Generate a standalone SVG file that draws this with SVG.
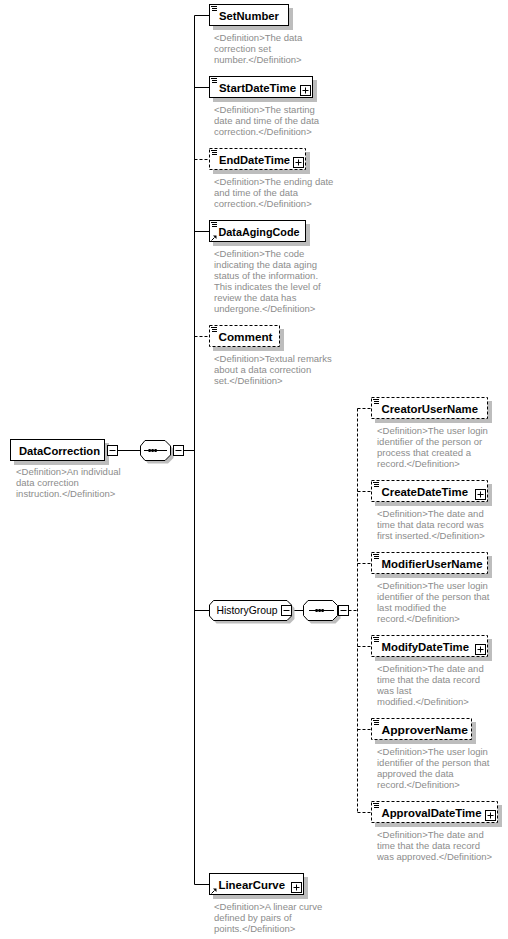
<svg xmlns="http://www.w3.org/2000/svg" width="508" height="939" viewBox="0 0 508 939">
<style>
.bg{fill:#fff}
.box{fill:#fff;stroke:#000;stroke-width:1}
.opt{stroke-dasharray:3,2}
.sh{fill:#bdbdbd;stroke:none}
.nm{font-family:"Liberation Sans",Arial,sans-serif;font-weight:bold;font-size:11.4px;fill:#000}
.gn{font-family:"Liberation Sans",Arial,sans-serif;font-size:10.5px;fill:#000}
.df{font-family:"Liberation Sans",Arial,sans-serif;font-size:9.5px;fill:#8c8c8c}
.ln{stroke:#000;stroke-width:1;fill:none}
.dl{stroke-dasharray:3,2}
</style>
<defs>
<g id="plus"><rect x="0" y="0" width="10" height="10" fill="#fff" stroke="#000"/><path d="M2,5H8M5,2V8" stroke="#000" fill="none"/></g>
<g id="minus"><rect x="0" y="0" width="10" height="10" fill="#fff" stroke="#000"/><path d="M2,5H8" stroke="#000" fill="none"/></g>
<g id="ic"><path d="M0,0.5H6M1,2.5H6M1,4.5H6" stroke="#000" stroke-width="1" fill="none" shape-rendering="crispEdges"/></g>
<g id="ref"><path d="M0.5,5.5L3.5,2.5" stroke="#000" fill="none"/><polygon points="2,0.5 5.5,0.5 5.5,4" fill="#000"/></g>
</defs>
<rect class="bg" x="0" y="0" width="508" height="939"/>

<g id="connectors">
<path class="ln" d="M194.5,15.5V884.5"/>
<path class="ln" d="M194.5,15.5H209.5M194.5,87.5H209.5M194.5,231.5H209.5M194.5,610.5H209.5M194.5,884.5H209.5"/>
<path class="ln dl" d="M194.5,159.5H209.5M194.5,336.5H209.5"/>
<path class="ln" d="M117.5,450.5H140.5M170.5,450.5H173.5M183.5,450.5H194.5"/>
<path class="ln" d="M291.5,610.5H303.5M337.5,610.5H338.5"/>
<path class="ln dl" d="M348.5,610.5H357.5M357.5,408.5V812.5M357.5,408.5H371.5M357.5,491.5H371.5M357.5,563.5H371.5M357.5,646.5H371.5M357.5,729.5H371.5M357.5,812.5H371.5"/>
</g>

<g id="DataCorrection">
<rect class="sh" x="14" y="443" width="95" height="22"/>
<rect class="box" x="10.5" y="439.5" width="94" height="21"/>
<text class="nm" x="19" y="454.5" textLength="81" lengthAdjust="spacingAndGlyphs">DataCorrection</text>
<use href="#minus" x="107.5" y="445.5"/>
<text class="df"><tspan x="16" y="475">&lt;Definition&gt;An individual</tspan><tspan x="16" y="486">data correction</tspan><tspan x="16" y="497">instruction.&lt;/Definition&gt;</tspan></text>
</g>

<g id="seq1">
<polygon class="sh" points="148,443.5 168,443.5 173.5,449 173.5,458 168,463.5 148,463.5 143.5,458 143.5,449"/>
<polygon class="box" points="145,440.5 165,440.5 170.5,446 170.5,455 165,460.5 145,460.5 140.5,455 140.5,446"/>
<path class="ln" d="M144,450.5H167"/>
<rect x="148.5" y="449" width="2.2" height="3" fill="#000"/><rect x="151.5" y="449" width="2.2" height="3" fill="#000"/><rect x="154.5" y="449" width="2.2" height="3" fill="#000"/>
<use href="#minus" x="173.5" y="445.5"/>
</g>

<g id="SetNumber">
<rect class="sh" x="213" y="8" width="80" height="22"/>
<rect class="box" x="209.5" y="4.5" width="79" height="21"/>
<use href="#ic" x="211" y="6"/>
<text class="nm" x="219" y="19.5" textLength="60" lengthAdjust="spacingAndGlyphs">SetNumber</text>
<text class="df"><tspan x="214" y="41">&lt;Definition&gt;The data</tspan><tspan x="214" y="52">correction set</tspan><tspan x="214" y="63">number.&lt;/Definition&gt;</tspan></text>
</g>

<g id="StartDateTime">
<rect class="sh" x="213" y="80" width="104" height="22"/>
<rect class="box" x="209.5" y="76.5" width="103" height="21"/>
<use href="#ic" x="211" y="78"/>
<text class="nm" x="219" y="91.5" textLength="77" lengthAdjust="spacingAndGlyphs">StartDateTime</text>
<use href="#plus" x="300.5" y="85.5"/>
<text class="df"><tspan x="214" y="113">&lt;Definition&gt;The starting</tspan><tspan x="214" y="124">date and time of the data</tspan><tspan x="214" y="135">correction.&lt;/Definition&gt;</tspan></text>
</g>

<g id="EndDateTime">
<rect class="sh" x="213" y="152" width="97" height="22"/>
<rect class="box opt" x="209.5" y="148.5" width="96" height="21"/>
<use href="#ic" x="211" y="150"/>
<text class="nm" x="219" y="163.5" textLength="71" lengthAdjust="spacingAndGlyphs">EndDateTime</text>
<use href="#plus" x="293.5" y="157.5"/>
<text class="df"><tspan x="214" y="185">&lt;Definition&gt;The ending date</tspan><tspan x="214" y="196">and time of the data</tspan><tspan x="214" y="207">correction.&lt;/Definition&gt;</tspan></text>
</g>

<g id="DataAgingCode">
<rect class="sh" x="213" y="224" width="97" height="22"/>
<rect class="box" x="209.5" y="220.5" width="96" height="21"/>
<use href="#ic" x="211" y="222"/>
<use href="#ref" x="211" y="235"/>
<text class="nm" x="218.5" y="235.5" textLength="81" lengthAdjust="spacingAndGlyphs">DataAgingCode</text>
<text class="df"><tspan x="214" y="257">&lt;Definition&gt;The code</tspan><tspan x="214" y="268">indicating the data aging</tspan><tspan x="214" y="279">status of the information.</tspan><tspan x="214" y="290">This indicates the level of</tspan><tspan x="214" y="301">review the data has</tspan><tspan x="214" y="312">undergone.&lt;/Definition&gt;</tspan></text>
</g>

<g id="Comment">
<rect class="sh" x="213" y="329" width="71" height="22"/>
<rect class="box opt" x="209.5" y="325.5" width="70" height="21"/>
<use href="#ic" x="211" y="327"/>
<text class="nm" x="218.5" y="340.5" textLength="54" lengthAdjust="spacingAndGlyphs">Comment</text>
<text class="df"><tspan x="214" y="362">&lt;Definition&gt;Textual remarks</tspan><tspan x="214" y="373">about a data correction</tspan><tspan x="214" y="384">set.&lt;/Definition&gt;</tspan></text>
</g>

<g id="HistoryGroup">
<polygon class="sh" points="216.5,603.5 290,603.5 294.5,608 294.5,619 290,623.5 216.5,623.5 212.5,619 212.5,608"/>
<polygon class="box" points="213.5,600.5 287,600.5 291.5,605 291.5,616 287,620.5 213.5,620.5 209.5,616 209.5,605"/>
<text class="gn" x="216.5" y="614" textLength="61" lengthAdjust="spacingAndGlyphs">HistoryGroup</text>
<use href="#minus" x="281.5" y="605.5"/>
</g>

<g id="seq2">
<polygon class="sh" points="311,603.5 335.5,603.5 340.5,608.5 340.5,618.5 335.5,623.5 311,623.5 306.5,618.5 306.5,608.5"/>
<polygon class="box" points="308,600.5 332.5,600.5 337.5,605.5 337.5,615.5 332.5,620.5 308,620.5 303.5,615.5 303.5,605.5"/>
<path class="ln" d="M309,610.5H334"/>
<rect x="315.5" y="609" width="2.2" height="3" fill="#000"/><rect x="318.5" y="609" width="2.2" height="3" fill="#000"/><rect x="321.5" y="609" width="2.2" height="3" fill="#000"/>
<use href="#minus" x="338.5" y="605.5"/>
</g>

<g id="CreatorUserName">
<rect class="sh" x="375" y="401" width="117" height="22"/>
<rect class="box opt" x="371.5" y="397.5" width="116" height="21"/>
<use href="#ic" x="373" y="399"/>
<text class="nm" x="381.5" y="412.5" textLength="96.5" lengthAdjust="spacingAndGlyphs">CreatorUserName</text>
<text class="df"><tspan x="377" y="434">&lt;Definition&gt;The user login</tspan><tspan x="377" y="445">identifier of the person or</tspan><tspan x="377" y="456">process that created a</tspan><tspan x="377" y="467">record.&lt;/Definition&gt;</tspan></text>
</g>

<g id="CreateDateTime">
<rect class="sh" x="375" y="484" width="117" height="22"/>
<rect class="box opt" x="371.5" y="480.5" width="116" height="21"/>
<use href="#ic" x="373" y="482"/>
<text class="nm" x="381.5" y="495.5" textLength="86.5" lengthAdjust="spacingAndGlyphs">CreateDateTime</text>
<use href="#plus" x="475.5" y="489.5"/>
<text class="df"><tspan x="377" y="517">&lt;Definition&gt;The date and</tspan><tspan x="377" y="528">time that data record was</tspan><tspan x="377" y="539">first inserted.&lt;/Definition&gt;</tspan></text>
</g>

<g id="ModifierUserName">
<rect class="sh" x="375" y="556" width="117" height="22"/>
<rect class="box opt" x="371.5" y="552.5" width="116" height="21"/>
<use href="#ic" x="373" y="554"/>
<text class="nm" x="381.5" y="567.5" textLength="101" lengthAdjust="spacingAndGlyphs">ModifierUserName</text>
<text class="df"><tspan x="377" y="589">&lt;Definition&gt;The user login</tspan><tspan x="377" y="600">identifier of the person that</tspan><tspan x="377" y="611">last modified the</tspan><tspan x="377" y="622">record.&lt;/Definition&gt;</tspan></text>
</g>

<g id="ModifyDateTime">
<rect class="sh" x="375" y="639" width="117" height="22"/>
<rect class="box opt" x="371.5" y="635.5" width="116" height="21"/>
<use href="#ic" x="373" y="637"/>
<text class="nm" x="381.5" y="650.5" textLength="87.5" lengthAdjust="spacingAndGlyphs">ModifyDateTime</text>
<use href="#plus" x="475.5" y="644.5"/>
<text class="df"><tspan x="377" y="672">&lt;Definition&gt;The date and</tspan><tspan x="377" y="683">time that the data record</tspan><tspan x="377" y="694">was last</tspan><tspan x="377" y="705">modified.&lt;/Definition&gt;</tspan></text>
</g>

<g id="ApproverName">
<rect class="sh" x="375" y="722" width="101" height="22"/>
<rect class="box opt" x="371.5" y="718.5" width="100" height="21"/>
<use href="#ic" x="373" y="720"/>
<text class="nm" x="381.5" y="733.5" textLength="86.5" lengthAdjust="spacingAndGlyphs">ApproverName</text>
<text class="df"><tspan x="377" y="755">&lt;Definition&gt;The user login</tspan><tspan x="377" y="766">identifier of the person that</tspan><tspan x="377" y="777">approved the data</tspan><tspan x="377" y="788">record.&lt;/Definition&gt;</tspan></text>
</g>

<g id="ApprovalDateTime">
<rect class="sh" x="375" y="805" width="127" height="22"/>
<rect class="box opt" x="371.5" y="801.5" width="126" height="21"/>
<use href="#ic" x="373" y="803"/>
<text class="nm" x="381.5" y="816.5" textLength="100" lengthAdjust="spacingAndGlyphs">ApprovalDateTime</text>
<use href="#plus" x="485.5" y="810.5"/>
<text class="df"><tspan x="377" y="838">&lt;Definition&gt;The date and</tspan><tspan x="377" y="849">time that the data record</tspan><tspan x="377" y="860">was approved.&lt;/Definition&gt;</tspan></text>
</g>

<g id="LinearCurve">
<rect class="sh" x="213" y="877" width="95" height="22"/>
<rect class="box" x="209.5" y="873.5" width="94" height="21"/>
<use href="#ref" x="211" y="888"/>
<text class="nm" x="218.5" y="888.5" textLength="66.5" lengthAdjust="spacingAndGlyphs">LinearCurve</text>
<use href="#plus" x="291.5" y="882.5"/>
<text class="df"><tspan x="214" y="910">&lt;Definition&gt;A linear curve</tspan><tspan x="214" y="921">defined by pairs of</tspan><tspan x="214" y="932">points.&lt;/Definition&gt;</tspan></text>
</g>
</svg>
